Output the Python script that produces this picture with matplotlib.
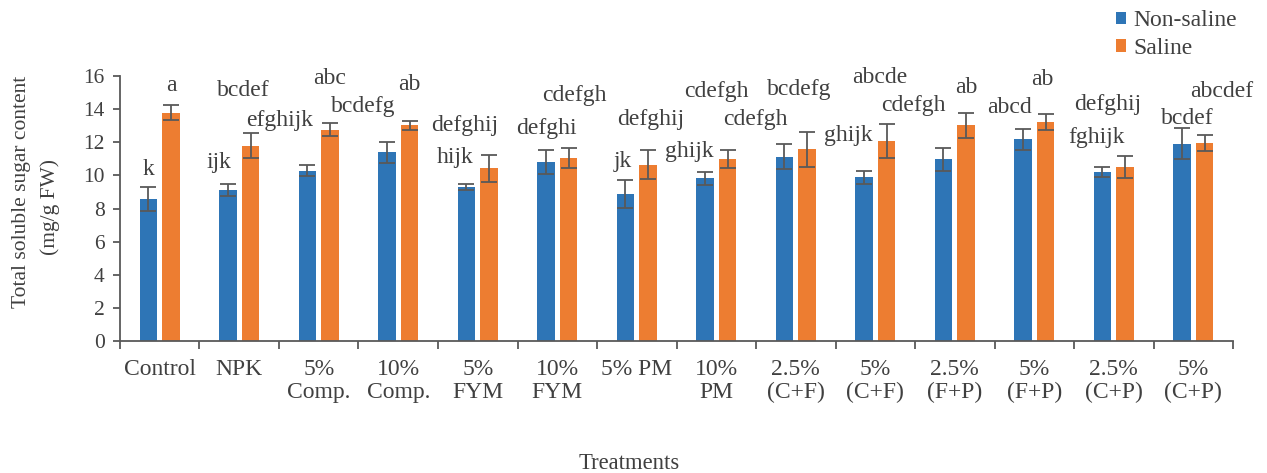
import matplotlib.pyplot as plt
import numpy as np

plt.rcParams['font.family'] = ['Liberation Serif', 'DejaVu Serif']

treatments = ['Control', 'NPK', '5%\nComp.', '10%\nComp.', '5%\nFYM', '10%\nFYM', '5% PM',
              '10%\nPM', '2.5%\n(C+F)', '5%\n(C+F)', '2.5%\n(F+P)', '5%\n(F+P)',
              '2.5%\n(C+P)', '5%\n(C+P)']

non_saline = [8.57, 9.10, 10.30, 11.39, 9.30, 10.81, 8.88, 9.84, 11.13, 9.88, 10.97, 12.18, 10.20, 11.92]
non_saline_err = [0.74, 0.36, 0.33, 0.62, 0.16, 0.75, 0.85, 0.40, 0.75, 0.41, 0.67, 0.63, 0.31, 0.92]
saline = [13.79, 11.80, 12.76, 13.02, 10.43, 11.07, 10.65, 10.99, 11.57, 12.06, 13.02, 13.22, 10.50, 11.96]
saline_err = [0.46, 0.77, 0.39, 0.27, 0.83, 0.62, 0.88, 0.53, 1.06, 1.02, 0.77, 0.49, 0.67, 0.47]

non_saline_letters = ['k', 'ijk', 'efghijk', 'bcdefg', 'hijk', 'defghi', 'jk', 'ghijk',
                      'cdefgh', 'ghijk', 'cdefgh', 'abcd', 'fghijk', 'bcdef']
saline_letters = ['a', 'bcdef', 'abc', 'ab', 'defghij', 'cdefgh', 'defghij', 'cdefgh',
                  'bcdefg', 'abcde', 'ab', 'ab', 'defghij', 'abcdef']

# letter label offsets (pixels) from the top centre of each bar
non_saline_offsets = [(0, 24), (-9, 22), (-28, 45), (-24, 40), (-11, 24), (0, 28), (-3, 27),
                      (-16, 21), (-29, 32), (-16, 36), (-30, 48), (-13, 26), (-6, 29), (5, 20)]
saline_offsets = [(0, 22), (-7, 50), (0, 46), (0, 35), (-24, 37), (6, 57), (3, 40),
                  (-11, 62), (-8, 54), (-7, 58), (0, 32), (-3, 37), (-17, 57), (17, 46)]

blue = '#2E75B6'
orange = '#ED7D31'
grey = '#595959'
txt = '#404040'
fs = 17

fig = plt.figure(figsize=(12.67, 4.73), dpi=100)
ax = fig.add_axes([0.0947, 0.279, 0.8785, 0.560])

x = np.arange(len(treatments))
w = 0.22
off = 0.142
err_kw = dict(ecolor=grey, elinewidth=1.3, capsize=5.5, capthick=1.3)

ax.bar(x - off, non_saline, w, color=blue, yerr=non_saline_err, error_kw=err_kw,
       label='Non-saline', zorder=2)
ax.bar(x + off, saline, w, color=orange, yerr=saline_err, error_kw=err_kw,
       label='Saline', zorder=2)

for i in range(len(treatments)):
    ax.annotate(non_saline_letters[i], (x[i] - off, non_saline[i]),
                xytext=non_saline_offsets[i], textcoords='offset pixels',
                ha='center', va='baseline', fontsize=fs, color=txt)
    ax.annotate(saline_letters[i], (x[i] + off, saline[i]),
                xytext=saline_offsets[i], textcoords='offset pixels',
                ha='center', va='baseline', fontsize=fs, color=txt)

ax.set_xlim(-0.5, len(treatments) - 0.5)
ax.set_ylim(0, 16)
ax.set_yticks(np.arange(0, 17, 2))
ax.set_xticks(np.arange(-0.5, len(treatments), 1), minor=True)
ax.set_xticks(x)
ax.set_xticklabels(treatments, fontsize=fs, color=txt, linespacing=1.1)
ax.tick_params(axis='x', which='major', length=0, pad=13)
ax.tick_params(axis='x', which='minor', length=6, width=1.3, color=grey)
ax.tick_params(axis='y', length=5, width=1.3, color=grey, labelsize=15.5, labelcolor=txt, pad=6)

for s in ['top', 'right']:
    ax.spines[s].set_visible(False)
for s in ['left', 'bottom']:
    ax.spines[s].set_color(grey)
    ax.spines[s].set_linewidth(1.3)

fig.text(0.0166, 0.595, 'Total soluble sugar content', rotation=90, ha='center', va='center',
         fontsize=15.5, color=txt)
fig.text(0.0395, 0.563, '(mg/g FW)', rotation=90, ha='center', va='center',
         fontsize=15.5, color=txt)
fig.text(0.4965, 0.021, 'Treatments', ha='center', va='center', fontsize=16.3, color=txt)

fig.legend(loc='upper left', bbox_to_anchor=(0.8808, 0.978), frameon=False, fontsize=fs,
           borderpad=0, borderaxespad=0,
           handlelength=0.42, handleheight=0.42, handletextpad=0.3, labelspacing=0.28,
           labelcolor=txt)

fig.savefig('out.png', dpi=100)
